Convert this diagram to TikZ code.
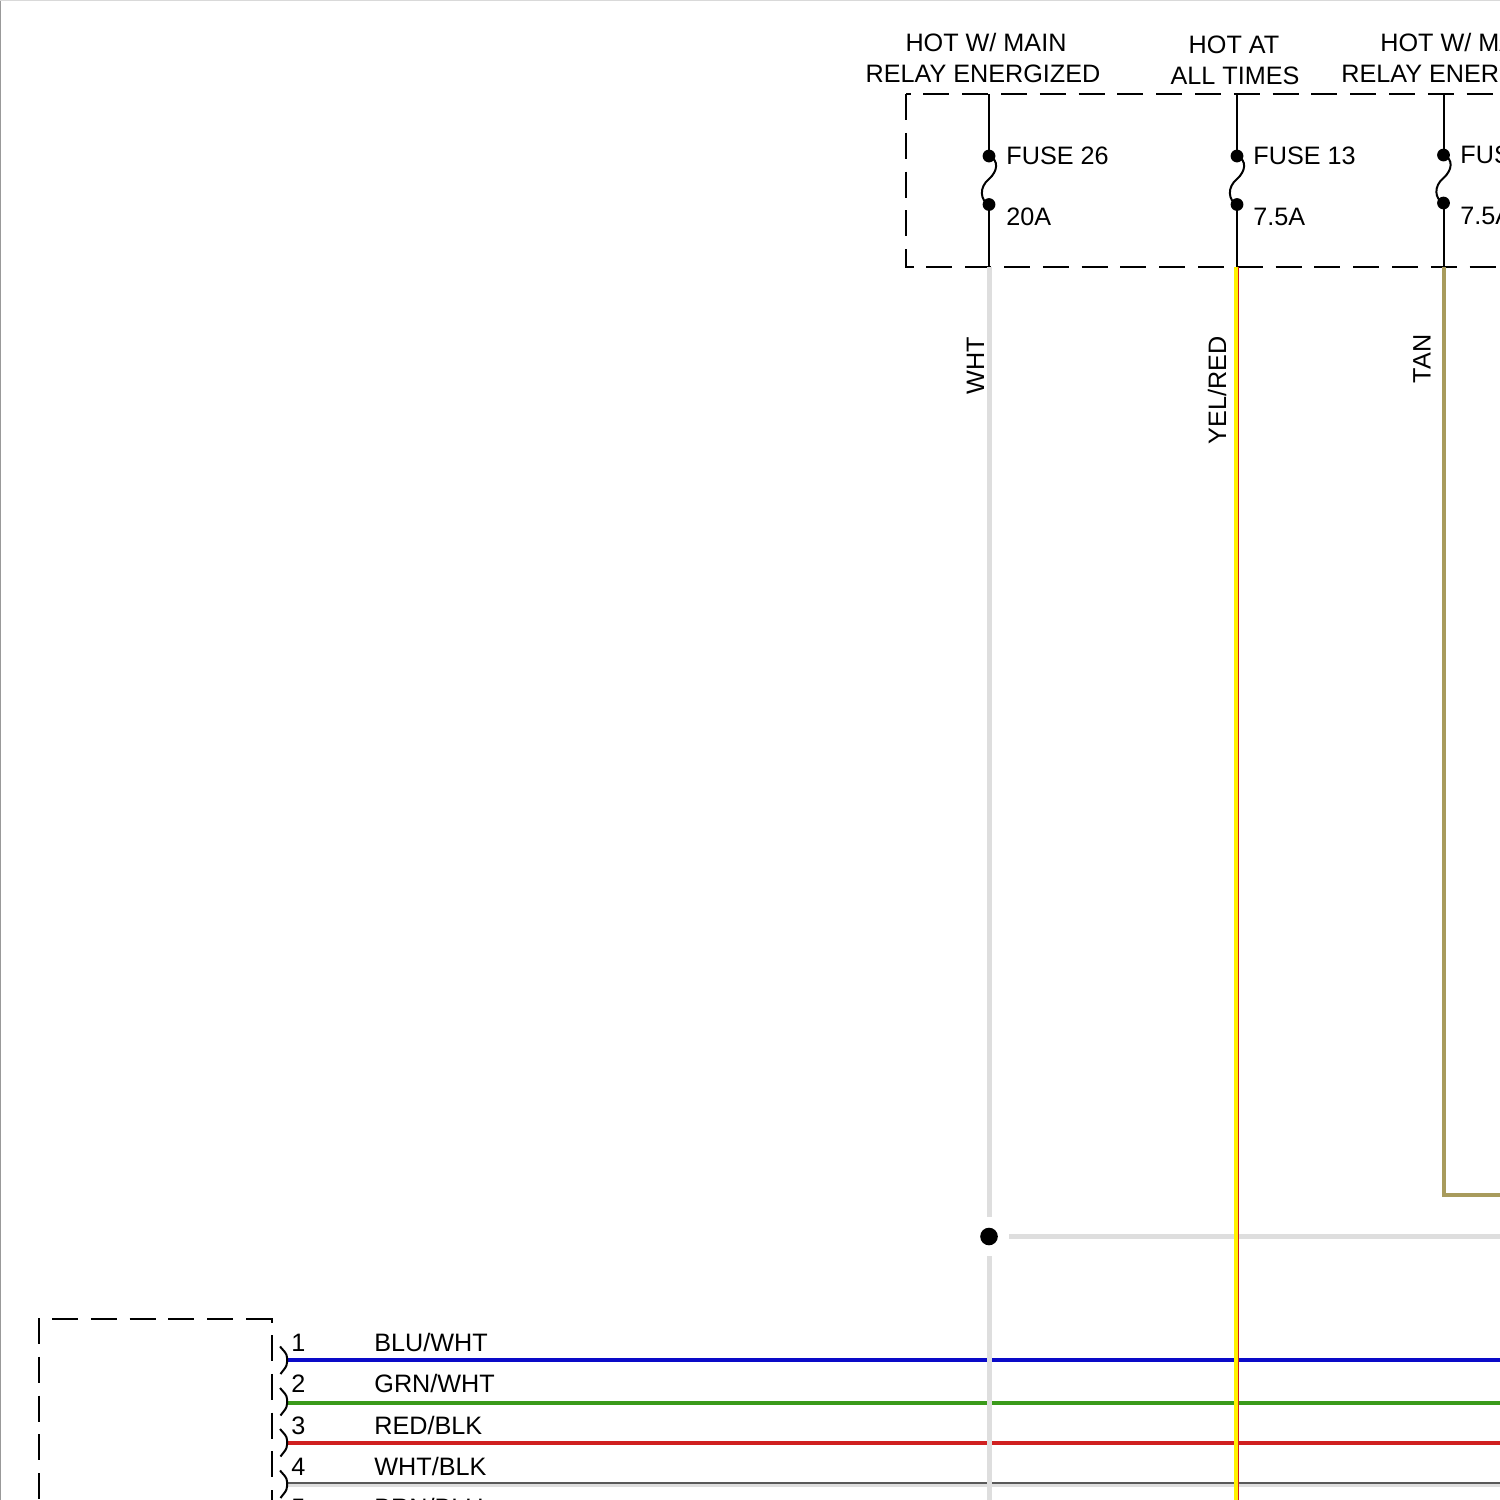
\documentclass[tikz,border=0pt]{standalone}
\usepackage{fontspec}
\setmainfont{Liberation Sans}
\definecolor{whtw}{HTML}{DEDEDE}
\definecolor{tanw}{HTML}{A89B5C}
\definecolor{bluw}{HTML}{0A0AC8}
\definecolor{grnw}{HTML}{3A9A1A}
\definecolor{redw}{HTML}{D02020}
\definecolor{yelw}{HTML}{FFF200}
\tikzset{
  lbl/.style={inner sep=0pt,font=\fontsize{12.6pt}{14pt}\selectfont,text=black},
  lblL/.style={lbl,anchor=west},
  vlbl/.style={lbl,rotate=90},
  ln/.style={line width=1pt,black},
  dashln/.style={line width=1pt,black,dash pattern=on 13pt off 6.4pt},
  dotn/.style={circle,fill=black,inner sep=0pt,minimum size=6.4pt},
  wire/.style={line width=2pt},
  whtwire/.style={line width=2.5pt,whtw},
  conn/.style={line width=1pt,black}
}
\begin{document}
\begin{tikzpicture}[x=0.5pt,y=-0.5pt]
\useasboundingbox (0,0) rectangle (1500,1500);
\clip (0,0) rectangle (1500,1500);
\fill[white] (0,0) rectangle (1500,1500);
\draw[line width=0.8pt,black!40] (0.4,0) -- (0.4,1500);
\draw[line width=0.5pt,black!15] (0,0.3) -- (1500,0.3);

% coordinates
\coordinate (b1) at (989,267);
\coordinate (b3) at (1443.5,267);
\coordinate (tanc) at (1443.5,1195); \coordinate (tanr) at (1500,1195);
\coordinate (wjr) at (1500,1236.5); \coordinate (wjl) at (1009,1236.5);
\coordinate (w1end) at (989,1217); \coordinate (w2st) at (989,1256);
\coordinate (wb) at (989,1500); \coordinate (yb) at (1235.8,1500); \coordinate (rb) at (1238.5,1500);
\coordinate (yt) at (1235.8,267); \coordinate (rt) at (1238.5,267);

% dashed fuse box
\draw[dashln,dash phase=10.7pt] (906,94) -- (1500,94);
\draw[dashln,dash phase=9.2pt] (906,267) -- (1500,267);
\draw[dashln] (906,94) -- (906,267);
\draw[line width=1pt] (906,255) -- (906,268);

% dashed module box
\draw[dashln] (39,1318) -- (39,1500);
\draw[dashln] (52,1319) -- (272,1319);
\draw[line width=1pt] (246,1319) -- (271.5,1319) -- (271.5,1323);
\draw[dashln] (271.5,1335) -- (271.5,1500);

% horizontal wires
\draw[wire,bluw] (287,1360) -- (1500,1360);
\draw[wire,grnw] (287,1402.5) -- (1500,1402.5);
\draw[line width=2.4pt,redw] (287,1443) -- (1500,1443);
\draw[line width=2pt,whtw] (287,1485) -- (1500,1485);
\draw[line width=0.6pt,black!65] (287,1483) -- (1500,1483);

% vertical wires crossing on top
\draw[whtwire] (b1) -- (w1end);
\draw[whtwire] (w2st) -- (wb);
\draw[whtwire] (wjl) -- (wjr);
\draw[line width=2.2pt,yelw] (yt) -- (yb);
\draw[line width=0.8pt,redw] (rt) -- (rb);
\draw[line width=2pt,tanw,line join=miter] (b3) -- (tanc) -- (tanr);
\node[dotn,minimum size=8.8pt] (jn) at (989,1236.5) {};

% fuses
\foreach \nm/\x/\ya/\yb in {a/989/156/204.5,b/1237/156/204.5,c/1443.5/155/203}{
  \node[dotn] (\nm1) at (\x,\ya) {};
  \node[dotn] (\nm2) at (\x,\yb) {};
  \draw[ln] (\x,94) -- (\nm1.center);
  \draw[ln] (\nm2.center) -- (\x,267);
  \draw[line width=1pt,black] (\x,\ya) .. controls (\x+10,\ya+4) and (\x+9,\ya+15) .. (\x,\ya+23)
     .. controls (\x-10,\ya+31) and (\x-9,\yb-4) .. (\x,\yb);
}

% connector brackets
\foreach \nm/\y in {1/1360.5,2/1402,3/1443,4/1484.5}{
  \draw[conn,rounded corners=1.5pt] (280,\y-14) -- (287,\y-6) -- (287,\y+5) -- (280.5,\y+13.5);
}

% header labels
\node[lbl] (h1a) at (986,42.5) {HOT W/ MAIN};
\node[lbl] (h1b) at (983,73.5) {RELAY ENERGIZED};
\node[lbl] (h2a) at (1234,44.5) {HOT AT};
\node[lbl] (h2b) at (1235,75.5) {ALL TIMES};
\node[lblL] (h3a) at (1380,42.5) {HOT W/ MAIN};
\node[lblL] (h3b) at (1341,73.5) {RELAY ENERGIZED};

% fuse labels
\node[lblL] (f1) at (1006,155.5) {FUSE 26};
\node[lblL] (f1a) at (1006,216.5) {20A};
\node[lblL] (f2) at (1253,155.5) {FUSE 13};
\node[lblL] (f2a) at (1253,216.5) {7.5A};
\node[lblL] (f3) at (1460,155) {FUSE};
\node[lblL] (f3a) at (1460,215.5) {7.5A};

% wire labels
\node[vlbl] (vw) at (975.5,366) {WHT};
\node[vlbl] (vy) at (1217,390.5) {YEL/RED};
\node[vlbl] (vt) at (1422,359) {TAN};

% pin labels
\node[lbl] (p1) at (298.5,1342.5) {1};
\node[lbl] (p2) at (298.5,1383.5) {2};
\node[lbl] (p3) at (298.5,1425.5) {3};
\node[lbl] (p4) at (298.5,1466.5) {4};
\node[lbl] (p5) at (298.5,1507.5) {5};
\node[lblL] (n1) at (374,1342.5) {BLU/WHT};
\node[lblL] (n2) at (374,1383.5) {GRN/WHT};
\node[lblL] (n3) at (374,1425.5) {RED/BLK};
\node[lblL] (n4) at (374,1466.5) {WHT/BLK};
\node[lblL] (n5) at (374,1507.5) {BRN/BLU};
\end{tikzpicture}
\end{document}
